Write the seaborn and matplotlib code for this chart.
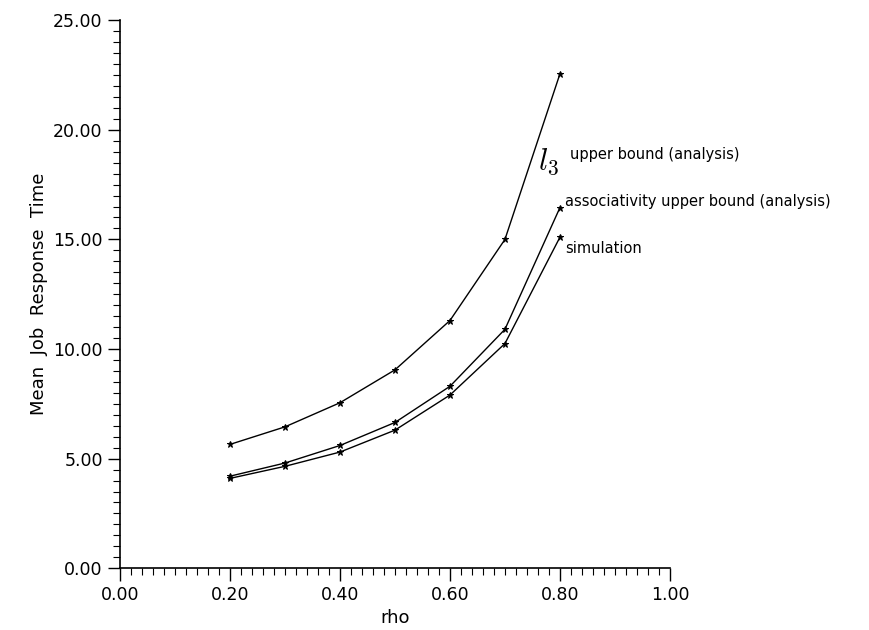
import matplotlib
matplotlib.use("Agg")
import matplotlib.pyplot as plt
import numpy as np
import pandas as pd
import seaborn as sns
from matplotlib.ticker import MultipleLocator, FormatStrFormatter

rho = [0.2, 0.3, 0.4, 0.5, 0.6, 0.7, 0.8]
l3_upper = [5.65, 6.45, 7.55, 9.05, 11.3, 15.0, 22.55]
assoc_upper = [4.2, 4.8, 5.6, 6.65, 8.3, 10.9, 16.45]
simulation = [4.1, 4.65, 5.3, 6.3, 7.9, 10.25, 15.1]

series_names = ["l3", "assoc", "sim"]

df = pd.DataFrame({
    "rho": rho * 3,
    "time": l3_upper + assoc_upper + simulation,
    "series": np.repeat(series_names, len(rho)),
})

sns.set_style("ticks")
plt.rcParams["font.family"] = ["DejaVu Sans"]
plt.rcParams["mathtext.fontset"] = "cm"
plt.rcParams["text.color"] = "black"
plt.rcParams["axes.labelcolor"] = "black"
plt.rcParams["xtick.color"] = "black"
plt.rcParams["ytick.color"] = "black"

fig = plt.figure(figsize=(8.7, 6.3), dpi=100)
ax = fig.add_axes([0.138, 0.098, 0.632, 0.870])

sns.lineplot(
    data=df, x="rho", y="time", units="series", estimator=None,
    color="black", linewidth=1.0, marker="*", markersize=5,
    markeredgecolor="black", ax=ax,
)

ax.set_xlim(0, 1.0)
ax.set_ylim(0, 25)
ax.xaxis.set_major_locator(MultipleLocator(0.2))
ax.xaxis.set_minor_locator(MultipleLocator(0.02))
ax.yaxis.set_major_locator(MultipleLocator(5))
ax.yaxis.set_minor_locator(MultipleLocator(0.5))
ax.xaxis.set_major_formatter(FormatStrFormatter("%.2f"))
ax.yaxis.set_major_formatter(FormatStrFormatter("%.2f"))
ax.tick_params(which="major", length=9, width=1, labelsize=12.5)
ax.tick_params(which="minor", length=5, width=0.8)
for side in ["top", "right"]:
    ax.spines[side].set_visible(False)
for side in ["left", "bottom"]:
    ax.spines[side].set_linewidth(1.2)
    ax.spines[side].set_color("black")

ax.set_xlabel("rho", fontsize=13)
ax.set_ylabel("Mean  Job  Response  Time", fontsize=13)

ax.text(0.76, 18.55, "$l_3$", fontsize=22, ha="left", va="center")
ax.text(0.818, 18.85, "upper bound (analysis)", fontsize=10.5, ha="left", va="center")
ax.text(0.809, 16.75, "associativity upper bound (analysis)", fontsize=10.5, ha="left", va="center")
ax.text(0.809, 14.6, "simulation", fontsize=10.5, ha="left", va="center")

fig.savefig("out.png", dpi=100)
